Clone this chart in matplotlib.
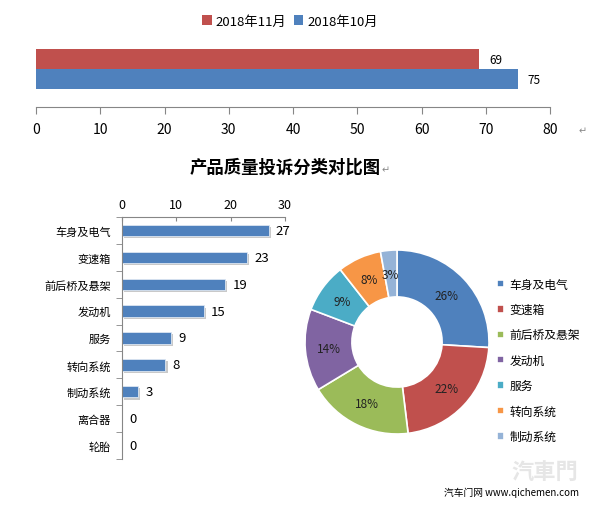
import matplotlib
matplotlib.use("Agg")
import matplotlib.pyplot as plt
import matplotlib.patheffects as pe

plt.rcParams['font.family'] = ['Noto Sans CJK SC', 'DejaVu Sans']

# top comparison chart
months = ['2018年10月', '2018年11月']
month_totals = [75, 69]
month_colors = ['#4F81BD', '#C0504D']

# complaint categories
categories = ['车身及电气', '变速箱', '前后桥及悬架', '发动机', '服务',
              '转向系统', '制动系统', '离合器', '轮胎']
counts = [27, 23, 19, 15, 9, 8, 3, 0, 0]
pie_colors = ['#4F81BD', '#C0504D', '#9BBB59', '#8064A2', '#4BACC6',
              '#F79646', '#95B3D7']

W, H = 600, 506
fig = plt.figure(figsize=(6, 5.06), dpi=100)

def box(x0, y0, x1, y1):
    # pixel box (top-left origin) -> figure fraction rect
    return [x0 / W, 1 - y1 / H, (x1 - x0) / W, (y1 - y0) / H]

# ---- top bar chart ----
ax1 = fig.add_axes(box(36, 40, 550, 108))
bars = []
for i in range(len(months)):
    b = ax1.barh(i, month_totals[i], height=1.0, color=month_colors[i],
                 label=months[i])
    bars.append(b)
    ax1.text(month_totals[i] + 1.5, i, str(month_totals[i]), va='center',
             ha='left', fontsize=8.5)
ax1.set_xlim(0, 80)
ax1.set_ylim(-1.4, 2.0)
ax1.set_xticks(range(0, 81, 10))
ax1.set_yticks([])
for s in ['top', 'right', 'left']:
    ax1.spines[s].set_visible(False)
ax1.spines['bottom'].set_color('#868686')
ax1.tick_params(axis='x', direction='out', length=5, color='#868686',
                labelsize=10, pad=6)
fig.legend([bars[1], bars[0]], [months[1], months[0]], ncol=2,
           loc='center', bbox_to_anchor=(290 / W, 1 - 22 / H),
           frameon=False, fontsize=9.5, handlelength=0.7, handleheight=0.7,
           handletextpad=0.3, columnspacing=0.6)
fig.text(583 / W, 1 - 131 / H, '↵', fontsize=7, color='#888888',
         ha='center', va='center')

# ---- title ----
fig.text(285 / W, 1 - 168 / H, '产品质量投诉分类对比图', fontsize=12.5,
         fontweight='bold', ha='center', va='center')
fig.text(386 / W, 1 - 170 / H, '↵', fontsize=7, color='#888888',
         ha='center', va='center')

# ---- lower left bar chart ----
ax2 = fig.add_axes(box(122, 218, 285, 460))
y = list(range(len(categories)))
hb = ax2.barh(y, counts, height=0.42, color='#4F81BD', edgecolor='#DCE6F2',
              linewidth=0.6)
for p in hb:
    p.set_path_effects([pe.SimplePatchShadow(offset=(1.5, -1.5),
                                             shadow_rgbFace='#888888',
                                             alpha=0.45), pe.Normal()])
for i in range(len(categories)):
    ax2.text(counts[i] + 1.3, i, str(counts[i]), va='center', ha='left',
             fontsize=9.5)
ax2.set_xlim(0, 30)
ax2.set_ylim(len(categories) - 0.5, -0.5)
ax2.xaxis.tick_top()
ax2.set_xticks(range(0, 31, 10))
ax2.set_yticks(y)
ax2.set_yticklabels(categories, fontsize=8)
ax2.set_yticks([i - 0.5 for i in range(len(categories) + 1)], minor=True)
ax2.tick_params(axis='y', which='major', length=0, pad=8)
ax2.tick_params(axis='y', which='minor', length=4, color='#868686')
ax2.tick_params(axis='x', direction='in', length=3, color='#868686',
                labelsize=9, pad=4)
for s in ['right', 'bottom']:
    ax2.spines[s].set_visible(False)
ax2.spines['left'].set_color('#868686')
ax2.spines['top'].set_color('#868686')

# ---- donut ----
pie_vals = [c for c in counts if c > 0]
pie_labels = [categories[i] for i in range(len(categories)) if counts[i] > 0]
ax3 = fig.add_axes(box(397 - 92, 343 - 92, 397 + 92, 343 + 92))
wedges, _, autotexts = ax3.pie(
    pie_vals, colors=pie_colors, startangle=90, counterclock=False,
    autopct='%1.0f%%', pctdistance=0.74, radius=1.0,
    wedgeprops=dict(width=0.51, edgecolor='white', linewidth=1.2),
    textprops=dict(fontsize=8.5, color='#222222'))
ax3.set_xlim(-1, 1)
ax3.set_ylim(-1, 1)
fig.legend(wedges, pie_labels, loc='upper left',
           bbox_to_anchor=(486 / W, 1 - 268 / H), frameon=False,
           fontsize=8.5, handlelength=0.6, handleheight=0.6,
           handletextpad=0.5, labelspacing=1.05)

# ---- watermark ----
fig.text(545 / W, 1 - 472 / H, '汽車門', fontsize=16, color='#E6E6E6',
         ha='center', va='center', fontweight='bold')
fig.text(512 / W, 1 - 493 / H, '汽车门网 www.qichemen.com', fontsize=7,
         ha='center', va='center')

fig.savefig('out.png', dpi=100, facecolor='white')
